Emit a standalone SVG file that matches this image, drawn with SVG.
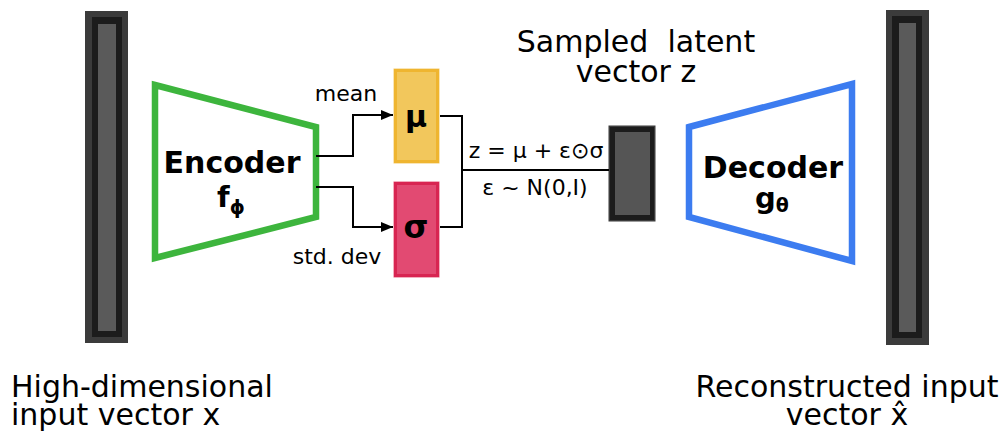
<svg xmlns="http://www.w3.org/2000/svg" width="1007" height="433" viewBox="0 0 1007 433">
<style>
text{font-family:"DejaVu Sans","Liberation Sans",sans-serif;fill:#000}
.b{font-weight:bold}
.lbl{font-size:30px}
.sm{font-size:22px}
.ln{fill:none;stroke:#000;stroke-width:2}
.outer{fill:#3b3b3b}
.mid{fill:#1c1c1c}
.inner{fill:#5a5a5a}
</style>
<defs>
<marker id="ah" markerWidth="12" markerHeight="10" refX="12" refY="5" orient="auto" markerUnits="userSpaceOnUse">
<path d="M0,0 L12,5 L0,10 Z" fill="#000"/>
</marker>
</defs>
<rect width="1007" height="433" fill="#fff"/>
<g id="input-bar">
<rect class="outer" x="85" y="11" width="43" height="332"/>
<rect class="mid" x="92" y="17" width="30" height="320"/>
<rect class="inner" x="98" y="24" width="18" height="307"/>
</g>
<g id="output-bar">
<rect class="outer" x="886" y="10" width="43" height="335"/>
<rect class="mid" x="892" y="16" width="30" height="322"/>
<rect class="inner" x="899" y="23" width="17" height="309"/>
</g>
<g id="encoder">
<polygon points="155,85 316,127 316,217 155,258" fill="none" stroke="#3db53d" stroke-width="6.5" stroke-linejoin="miter"/>
<text class="b lbl" x="232" y="173" text-anchor="middle">Encoder</text>
<text class="b" x="231" y="207" text-anchor="middle" font-size="29px">f<tspan font-size="19px" dy="7">ϕ</tspan></text>
</g>
<g id="mu">
<rect x="393.5" y="68.5" width="46" height="95" fill="#f3cc70"/>
<rect x="395.5" y="70.5" width="42" height="91" fill="#f2c75c" stroke="#efb530" stroke-width="3"/>
<text class="b" x="416" y="127" text-anchor="middle" font-size="30px">μ</text>
</g>
<g id="sigma">
<rect x="393.5" y="181.5" width="46" height="96" fill="#e86080"/>
<rect x="395.5" y="183.5" width="42" height="92" fill="#e24a72" stroke="#d82552" stroke-width="3"/>
<text class="b" x="416" y="238" text-anchor="middle" font-size="32px">σ</text>
</g>
<g id="latent">
<rect x="608.5" y="125.5" width="47" height="96" fill="#3b3b3b"/>
<rect x="610" y="127" width="44" height="93" fill="#1c1c1c"/>
<rect x="615" y="132" width="35" height="83" fill="#555"/>
</g>
<g id="decoder">
<polygon points="689,127 852,84 852,261 689,217" fill="none" stroke="#3c7cf0" stroke-width="6.5" stroke-linejoin="miter"/>
<text class="b lbl" x="773" y="178" text-anchor="middle">Decoder</text>
<text class="b" x="772" y="208" text-anchor="middle" font-size="29px">g<tspan font-size="19px" dy="4">θ</tspan></text>
</g>
<g id="connectors">
<polyline class="ln" points="316,156 353,156 353,115 393,115" marker-end="url(#ah)"/>
<polyline class="ln" points="316,187 353,187 353,227 393,227" marker-end="url(#ah)"/>
<polyline class="ln" points="440,116 462,116 462,227 440,227"/>
<line class="ln" x1="462" y1="170" x2="609" y2="170"/>
</g>
<g id="labels">
<text class="sm" x="346" y="101" text-anchor="middle">mean</text>
<text class="sm" x="337" y="264" text-anchor="middle">std. dev</text>
<text class="sm" x="536" y="158" text-anchor="middle">z = μ + ε⊙σ</text>
<text class="sm" x="535" y="195" text-anchor="middle">ε ~ N(0,I)</text>
<text class="lbl" x="636" y="52" text-anchor="middle">Sampled&#160; latent</text>
<text class="lbl" x="636" y="82" text-anchor="middle">vector z</text>
<text class="lbl" x="11" y="397">High-dimensional</text>
<text class="lbl" x="11" y="425">input vector x</text>
<text class="lbl" x="847" y="397" text-anchor="middle">Reconstructed input</text>
<text class="lbl" x="847" y="425" text-anchor="middle">vector x̂</text>
</g>
</svg>
